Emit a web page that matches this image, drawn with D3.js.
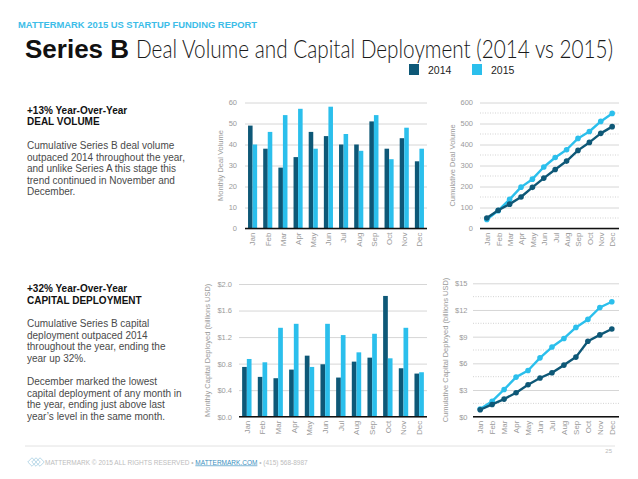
<!DOCTYPE html>
<html>
<head>
<meta charset="utf-8">
<script src="https://cdn.jsdelivr.net/npm/d3@7"></script>
<style>
  html, body { margin: 0; padding: 0; background: #fff; }
  svg { display: block; font-family: "Liberation Sans", Arial, Helvetica, sans-serif; }
</style>
</head>
<body>
<svg id="chart" width="638" height="479"></svg>
<script>
// ---------- DATA ----------
const months = ["Jan","Feb","Mar","Apr","May","Jun","Jul","Aug","Sep","Oct","Nov","Dec"];
const seriesNames = ["2014","2015"];

const dealVolume2014 = [49, 38, 29, 34, 46, 44, 40, 40, 51, 38, 43, 32];
const dealVolume2015 = [40, 46, 54, 57, 38, 58, 45, 37, 54, 33, 48, 38];

const cumDealVolume2014 = [50, 87, 116, 150, 196, 240, 281, 321, 372, 410, 453, 485];
const cumDealVolume2015 = [43, 85, 139, 197, 235, 293, 338, 375, 429, 462, 510, 548];

const capital2014 = [0.75, 0.60, 0.58, 0.71, 0.92, 0.79, 0.59, 0.83, 0.89, 1.82, 0.73, 0.65];
const capital2015 = [0.87, 0.82, 1.34, 1.40, 0.75, 1.40, 1.23, 0.97, 1.25, 0.88, 1.34, 0.67];

const cumCapital2014 = [0.78, 1.38, 1.98, 2.70, 3.60, 4.35, 4.95, 5.80, 6.70, 8.48, 9.20, 9.86];
const cumCapital2015 = [0.86, 1.74, 3.06, 4.45, 5.20, 6.62, 7.83, 8.80, 10.04, 10.94, 12.28, 12.93];

const dealTicks = [0, 10, 20, 30, 40, 50, 60];
const cumDealTicks = [0, 100, 200, 300, 400, 500, 600];
const capitalTicks = [0, 0.4, 0.8, 1.2, 1.6, 2.0];
const cumCapitalTicks = [0, 3, 6, 9, 12, 15];

const headerText = "MATTERMARK 2015 US STARTUP FUNDING REPORT";
const titleBold = "Series B";
const titleLight = "Deal Volume and Capital Deployment (2014 vs 2015)";

const block1Heading = ["+13% Year-Over-Year", "DEAL VOLUME"];
const block1Body = ["Cumulative Series B deal volume", "outpaced 2014 throughout the year,",
  "and unlike Series A this stage this", "trend continued in November and", "December."];
const block2Heading = ["+32% Year-Over-Year", "CAPITAL DEPLOYMENT"];
const block2Body = ["Cumulative Series B capital", "deployment outpaced 2014",
  "throughout the year, ending the", "year up 32%.", "",
  "December marked the lowest", "capital deployment of any month in",
  "the year, ending just above last", "year\u2019s level in the same month."];

// ---------- STYLE ----------
const C2014 = "#0e5877";
const C2015 = "#2bbfec";
const GRID = "#d6d6d6";
const TICK = "#9a9a9a";

const svg = d3.select("#chart");

// ---------- HEADER ----------
svg.append("text").attr("x", 18).attr("y", 28)
  .attr("font-size", 9.2).attr("font-weight", "bold").attr("fill", "#3cbde8")
  .attr("textLength", 239).attr("lengthAdjust", "spacingAndGlyphs")
  .text(headerText);

svg.append("text").attr("x", 25).attr("y", 58)
  .attr("font-size", 26).attr("font-weight", "bold").attr("fill", "#111")
  .text(titleBold);
svg.append("text").attr("x", 136).attr("y", 58)
  .attr("font-size", 26).attr("font-family", "Lato, Roboto, 'Liberation Sans', sans-serif")
  .attr("font-weight", 300).attr("fill", "#1a1a1a")
  .attr("textLength", 477).attr("lengthAdjust", "spacingAndGlyphs")
  .text(titleLight);

// legend
const legend = svg.append("g");
[[C2014, seriesNames[0], 409], [C2015, seriesNames[1], 472]].forEach(([c, t, x]) => {
  legend.append("rect").attr("x", x).attr("y", 64).attr("width", 10).attr("height", 11).attr("fill", c);
  legend.append("text").attr("x", x + 19).attr("y", 73.5).attr("font-size", 10.5).attr("fill", "#222").text(t);
});

// ---------- TEXT BLOCKS ----------
function textBlock(heading, body, x, y0, bodyY0) {
  heading.forEach((t, i) => svg.append("text").attr("x", x).attr("y", y0 + i * 11.5)
    .attr("font-size", 10).attr("font-weight", "bold").attr("fill", "#111").text(t));
  body.forEach((t, i) => svg.append("text").attr("x", x).attr("y", bodyY0 + i * 11.6)
    .attr("font-size", 10).attr("fill", "#4a4a4a").text(t));
}
textBlock(block1Heading, block1Body, 27, 113.5, 149);
textBlock(block2Heading, block2Body, 27, 292, 327);

// ---------- CHART HELPERS ----------
function yGrid(g, y, ticks, x1, x2, fmt, labelRight, minor) {
  if (minor) {
    for (let i = 0; i < ticks.length - 1; i++) {
      const v = (ticks[i] + ticks[i + 1]) / 2;
      g.append("line").attr("x1", x1).attr("x2", x2).attr("y1", y(v)).attr("y2", y(v))
        .attr("stroke", "#c8c8c8").attr("stroke-width", 0.8).attr("stroke-dasharray", "1,1.5");
    }
  }
  const ax = g.append("g").attr("transform", `translate(${x1},0)`)
    .call(d3.axisLeft(y).tickValues(ticks).tickFormat(fmt).tickSize(-(x2 - x1)).tickPadding(x1 - labelRight));
  ax.select(".domain").remove();
  ax.selectAll(".tick line").attr("stroke", GRID).attr("stroke-width", 1);
  ax.selectAll(".tick text").attr("fill", TICK).attr("font-size", 7.5)
    .attr("font-family", "'Liberation Sans', Arial, sans-serif");
}

function xLabels(g, x, yBase, offset) {
  const ax = g.append("g").attr("transform", `translate(0,${yBase})`)
    .call(d3.axisBottom(x).tickSize(0));
  ax.select(".domain").remove();
  ax.selectAll(".tick text")
    .attr("transform", "rotate(-90)")
    .attr("text-anchor", "end")
    .attr("x", -offset).attr("y", 0).attr("dy", "0.35em")
    .attr("fill", TICK).attr("font-size", 8);
}

function yTitle(g, text, cx, cy) {
  g.append("text").attr("transform", `translate(${cx},${cy}) rotate(-90)`)
    .attr("text-anchor", "middle").attr("dy", "0.35em")
    .attr("font-size", 7.5).attr("fill", TICK).text(text);
}

function barChart(opt) {
  const g = svg.append("g");
  const x = d3.scaleBand().domain(months).range([opt.x1, opt.x2]).padding(0);
  const y = d3.scaleLinear().domain(opt.domain).range([opt.yBottom, opt.yTop]);
  yGrid(g, y, opt.ticks, opt.x1, opt.x2, opt.fmt, opt.labelRight, false);
  const bw = x.step() * 0.3;
  g.append("g").selectAll("rect").data(opt.a).join("rect")
    .attr("x", (d, i) => x(months[i]) + x.step() * 0.2).attr("width", bw)
    .attr("y", d => y(d)).attr("height", d => y(0) - y(d)).attr("fill", C2014);
  g.append("g").selectAll("rect").data(opt.b).join("rect")
    .attr("x", (d, i) => x(months[i]) + x.step() * 0.5).attr("width", bw)
    .attr("y", d => y(d)).attr("height", d => y(0) - y(d)).attr("fill", C2015);
  g.append("line").attr("x1", opt.x1).attr("x2", opt.x2).attr("y1", y(0)).attr("y2", y(0))
    .attr("stroke", "#111").attr("stroke-width", 1.6);
  xLabels(g, x, y(0), 4);
  yTitle(g, opt.title, opt.titleX, (opt.yBottom + opt.yTop) / 2);
}

function lineChart(opt) {
  const g = svg.append("g");
  const x = d3.scalePoint().domain(months).range([opt.x1, opt.x2]).padding(0.6);
  const y = d3.scaleLinear().domain(opt.domain).range([opt.yBottom, opt.yTop]);
  yGrid(g, y, opt.ticks, opt.x1, opt.x2, opt.fmt, opt.labelRight, true);
  const line = d3.line().x((d, i) => x(months[i])).y(d => y(d));
  [[opt.b, C2015], [opt.a, C2014]].forEach(([data, c]) => {
    g.append("path").datum(data).attr("d", line).attr("fill", "none")
      .attr("stroke", c).attr("stroke-width", 2.4).attr("stroke-linejoin", "round");
    g.append("g").selectAll("circle").data(data).join("circle")
      .attr("cx", (d, i) => x(months[i])).attr("cy", d => y(d)).attr("r", 2.8).attr("fill", c);
  });
  g.append("line").attr("x1", opt.x1).attr("x2", opt.x2).attr("y1", y(0)).attr("y2", y(0))
    .attr("stroke", "#111").attr("stroke-width", 1.6);
  xLabels(g, x, y(0), 4);
  yTitle(g, opt.title, opt.titleX, (opt.yBottom + opt.yTop) / 2);
}

// ---------- CHARTS ----------
barChart({ x1: 245, x2: 427, yBottom: 228.5, yTop: 102.5, domain: [0, 60],
  ticks: dealTicks, fmt: d3.format("d"), labelRight: 237,
  a: dealVolume2014, b: dealVolume2015, title: "Monthly Deal Volume", titleX: 220.5 });

lineChart({ x1: 480, x2: 619, yBottom: 228.5, yTop: 102.5, domain: [0, 600],
  ticks: cumDealTicks, fmt: d3.format("d"), labelRight: 473,
  a: cumDealVolume2014, b: cumDealVolume2015, title: "Cumulative Deal Volume", titleX: 452.5 });

barChart({ x1: 239, x2: 427, yBottom: 416.7, yTop: 284, domain: [0, 2],
  ticks: capitalTicks, fmt: d => "$" + d3.format(".1f")(d), labelRight: 232,
  a: capital2014, b: capital2015, title: "Monthly Capital Deployed (billions USD)", titleX: 207.5 });

lineChart({ x1: 473, x2: 619, yBottom: 416.7, yTop: 283.3, domain: [0, 15],
  ticks: cumCapitalTicks, fmt: d => "$" + d, labelRight: 467.5,
  a: cumCapital2014, b: cumCapital2015, title: "Cumulative Capital Deployed (billions USD)", titleX: 445 });

// ---------- FOOTER ----------
svg.append("line").attr("x1", 25).attr("x2", 615).attr("y1", 446).attr("y2", 446)
  .attr("stroke", "#e2e2e2").attr("stroke-width", 1);
svg.append("text").attr("x", 612).attr("y", 453).attr("text-anchor", "end")
  .attr("font-size", 6).attr("fill", "#bbb").text("25");

const logo = svg.append("g").attr("transform", "translate(36,462)");
[-4, 0, 4].forEach(o => {
  logo.append("rect").attr("x", -3 + o).attr("y", -3).attr("width", 6).attr("height", 6)
    .attr("transform", `rotate(45,${o},0)`).attr("fill", "none").attr("stroke", "#9fcbe0").attr("stroke-width", 0.7);
});
const foot = svg.append("text").attr("x", 45).attr("y", 464.5).attr("font-size", 6.5).attr("fill", "#bdbdbd");
foot.append("tspan").text("MATTERMARK  \u00a9 2015 ALL RIGHTS RESERVED   \u2022   ");
foot.append("tspan").attr("fill", "#3a8fc0").attr("text-decoration", "underline").text("MATTERMARK.COM");
foot.append("tspan").text("   \u2022   (415) 568-8987");
</script>
</body>
</html>
